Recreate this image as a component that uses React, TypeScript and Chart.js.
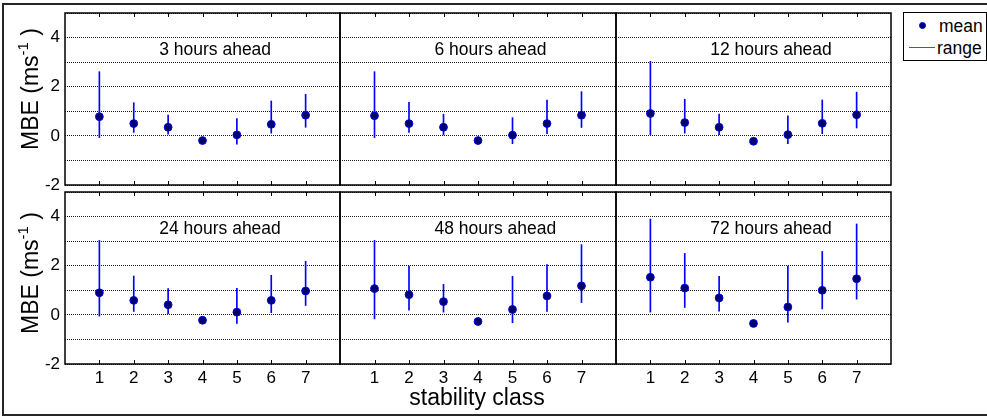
import React, { useEffect, useRef } from 'react';
import { Chart, registerables } from 'chart.js';

Chart.register(...registerables);

const FONT = "'Liberation Sans', Arial, Helvetica, sans-serif";

const stabilityClasses = [1, 2, 3, 4, 5, 6, 7];
const xTickLabels = ['1', '2', '3', '4', '5', '6', '7'];
const yTickLabels = [-2, 0, 2, 4];
const panelTitles = ['3 hours ahead', '6 hours ahead', '12 hours ahead', '24 hours ahead', '48 hours ahead', '72 hours ahead'];

const mean3h = [0.78, 0.5, 0.35, -0.19, 0.04, 0.47, 0.84];
const low3h = [-0.07, 0.14, 0.07, -0.25, -0.34, 0.11, 0.35];
const high3h = [2.61, 1.35, 0.85, -0.13, 0.7, 1.42, 1.69];

const mean6h = [0.82, 0.5, 0.35, -0.19, 0.03, 0.5, 0.84];
const low6h = [-0.07, 0.14, 0.04, -0.25, -0.32, 0.09, 0.34];
const high6h = [2.61, 1.36, 0.88, -0.13, 0.74, 1.46, 1.8];

const mean12h = [0.91, 0.54, 0.35, -0.22, 0.05, 0.51, 0.86];
const low12h = [0.05, 0.11, 0.05, -0.28, -0.32, 0.09, 0.32];
const high12h = [3.03, 1.49, 0.89, -0.16, 0.81, 1.46, 1.78];

const mean24h = [0.9, 0.59, 0.41, -0.22, 0.11, 0.59, 0.97];
const low24h = [-0.05, 0.14, 0.05, -0.28, -0.35, 0.09, 0.38];
const high24h = [3.03, 1.58, 1.07, -0.16, 1.08, 1.61, 2.18];

const mean48h = [1.07, 0.82, 0.54, -0.27, 0.22, 0.77, 1.18];
const low48h = [-0.16, 0.19, 0.11, -0.33, -0.32, 0.14, 0.5];
const high48h = [3.03, 1.99, 1.24, -0.21, 1.57, 2.05, 2.86];

const mean72h = [1.53, 1.09, 0.69, -0.35, 0.32, 1.0, 1.47];
const low72h = [0.11, 0.3, 0.15, -0.41, -0.3, 0.24, 0.64];
const high72h = [3.9, 2.5, 1.57, -0.29, 1.99, 2.58, 3.7];

const panelMeans = [mean3h, mean6h, mean12h, mean24h, mean48h, mean72h];
const panelLows = [low3h, low6h, low12h, low24h, low48h, low72h];
const panelHighs = [high3h, high6h, high12h, high24h, high48h, high72h];

// layout (pixels)
const COL_LEFT = [65, 340, 616];
const COL_RIGHT = [340, 616, 891];
const ROW_TOP = [13, 192];
const ROW_BOTTOM = [185, 364];
const Y_W = 45;
const X_H = 40;
const PAD_T = 6;
const PAD_R = 6;

const framePlugin = (title: string) => ({
  id: 'frame',
  afterDraw(chart: any) {
    const { ctx, chartArea, scales } = chart;
    const { left, top, right, bottom } = chartArea;
    const x = scales.x;
    const y = scales.y;
    ctx.save();
    ctx.strokeStyle = '#000';
    ctx.lineWidth = 1.5;
    ctx.setLineDash([]);
    ctx.strokeRect(left, top, right - left, bottom - top);
    ctx.lineWidth = 1;
    ctx.beginPath();
    stabilityClasses.forEach((c) => {
      const px = Math.round(x.getPixelForValue(c)) + 0.5;
      ctx.moveTo(px, top);
      ctx.lineTo(px, top + 4);
      ctx.moveTo(px, bottom);
      ctx.lineTo(px, bottom - 4);
    });
    ctx.stroke();
    ctx.fillStyle = '#000';
    ctx.font = `17.5px ${FONT}`;
    ctx.textAlign = 'left';
    ctx.textBaseline = 'middle';
    ctx.fillText(title, x.getPixelForValue(2.74), y.getPixelForValue(3.5));
    ctx.restore();
  },
});

function Panel({ idx }: { idx: number }) {
  const ref = useRef<HTMLCanvasElement>(null);
  const col = idx % 3;
  const row = Math.floor(idx / 3);
  const pw = COL_RIGHT[col] - COL_LEFT[col];
  const ph = ROW_BOTTOM[row] - ROW_TOP[row];
  const cw = pw + Y_W + PAD_R;
  const chh = ph + PAD_T + X_H;
  const cl = COL_LEFT[col] - Y_W;
  const ct = ROW_TOP[row] - PAD_T;

  useEffect(() => {
    const mean = panelMeans[idx];
    const low = panelLows[idx];
    const high = panelHighs[idx];
    const chart = new Chart(ref.current as HTMLCanvasElement, {
      type: 'bar',
      data: {
        datasets: [
          {
            type: 'scatter',
            label: 'mean',
            data: stabilityClasses.map((c, i) => ({ x: c, y: mean[i] })),
            pointRadius: 3.9,
            pointBackgroundColor: '#00006a',
            pointBorderColor: '#0000e6',
            pointBorderWidth: 1,
            order: 0,
          } as any,
          {
            type: 'bar',
            label: 'range',
            data: stabilityClasses.map((c, i) => ({ x: c, y: [low[i], high[i]] })),
            backgroundColor: '#0000ff',
            borderWidth: 0,
            barThickness: 1,
            order: 1,
          } as any,
        ],
      },
      options: {
        responsive: false,
        animation: false,
        devicePixelRatio: 1,
        events: [],
        layout: { padding: { left: 0, top: PAD_T, right: PAD_R, bottom: 0 } },
        plugins: { legend: { display: false }, tooltip: { enabled: false }, title: { display: false } },
        scales: {
          x: {
            type: 'linear',
            min: 0,
            max: 8,
            offset: false,
            grid: { display: false, drawTicks: false },
            border: { display: false },
            ticks: {
              display: row === 1,
              stepSize: 1,
              autoSkip: false,
              maxRotation: 0,
              padding: 4,
              color: '#000',
              font: { family: FONT, size: 17 },
              callback: (v: any) => {
                const i = stabilityClasses.indexOf(Number(v));
                return i >= 0 ? xTickLabels[i] : '';
              },
            },
            afterFit: (s: any) => {
              s.height = X_H;
              s.paddingLeft = 0;
              s.paddingRight = 0;
            },
          },
          y: {
            type: 'linear',
            min: -2,
            max: 5,
            grid: { color: '#1a1a1a', lineWidth: 1, drawTicks: false },
            border: { display: false, dash: [1, 1] },
            ticks: {
              display: col === 0,
              stepSize: 1,
              autoSkip: false,
              padding: 5,
              color: '#000',
              font: { family: FONT, size: 17 },
              callback: (v: any) => (yTickLabels.includes(Number(v)) ? String(v) : ''),
            },
            afterFit: (s: any) => {
              s.width = Y_W;
              s.paddingTop = 0;
              s.paddingBottom = 0;
            },
          },
        },
      } as any,
      plugins: [framePlugin(panelTitles[idx])],
    });
    return () => chart.destroy();
  }, [idx]);

  return (
    <canvas
      ref={ref}
      width={cw}
      height={chh}
      style={{ position: 'absolute', left: cl, top: ct, width: cw, height: chh }}
    />
  );
}

const yLabelStyle = (cy: number): React.CSSProperties => ({
  position: 'absolute',
  left: 30 - 100,
  top: cy - 13,
  width: 200,
  height: 26,
  lineHeight: '26px',
  textAlign: 'center',
  fontFamily: FONT,
  fontSize: 23,
  color: '#000',
  transform: 'rotate(-90deg)',
  whiteSpace: 'nowrap',
});

function YLabel({ cy }: { cy: number }) {
  return (
    <div style={yLabelStyle(cy)}>
      MBE (ms<span style={{ fontSize: 15, position: 'relative', top: -10 }}>-1</span> )
    </div>
  );
}

export default function App() {
  return (
    <div style={{ position: 'absolute', left: 0, top: 0, width: 987, height: 417, overflow: 'hidden', background: '#fff' }}>
      <div
        style={{
          position: 'absolute',
          left: 2,
          top: 3,
          width: 1000,
          height: 413,
          border: '2px solid #262626',
          boxSizing: 'border-box',
        }}
      />
      {[0, 1, 2, 3, 4, 5].map((i) => (
        <Panel key={i} idx={i} />
      ))}
      <YLabel cy={89} />
      <YLabel cy={273} />
      <div
        style={{
          position: 'absolute',
          left: 277,
          top: 384,
          width: 400,
          lineHeight: '26px',
          textAlign: 'center',
          fontFamily: FONT,
          fontSize: 23,
          color: '#000',
        }}
      >
        stability class
      </div>
      {/* legend */}
      <div
        style={{
          position: 'absolute',
          left: 903,
          top: 12,
          width: 84,
          height: 49,
          border: '1px solid #000',
          boxSizing: 'border-box',
          background: '#fff',
        }}
      />
      <div
        style={{
          position: 'absolute',
          left: 919,
          top: 22,
          width: 7,
          height: 7,
          borderRadius: '50%',
          background: '#00006a',
          border: '1px solid #0000e6',
          boxSizing: 'border-box',
        }}
      />
      <div style={{ position: 'absolute', left: 939, top: 16, lineHeight: '20px', fontFamily: FONT, fontSize: 17.5, color: '#000' }}>mean</div>
      <div style={{ position: 'absolute', left: 909, top: 47, width: 26, height: 1, background: '#4646ff' }} />
      <div style={{ position: 'absolute', left: 937, top: 38, lineHeight: '20px', fontFamily: FONT, fontSize: 17.5, color: '#000' }}>range</div>
    </div>
  );
}
